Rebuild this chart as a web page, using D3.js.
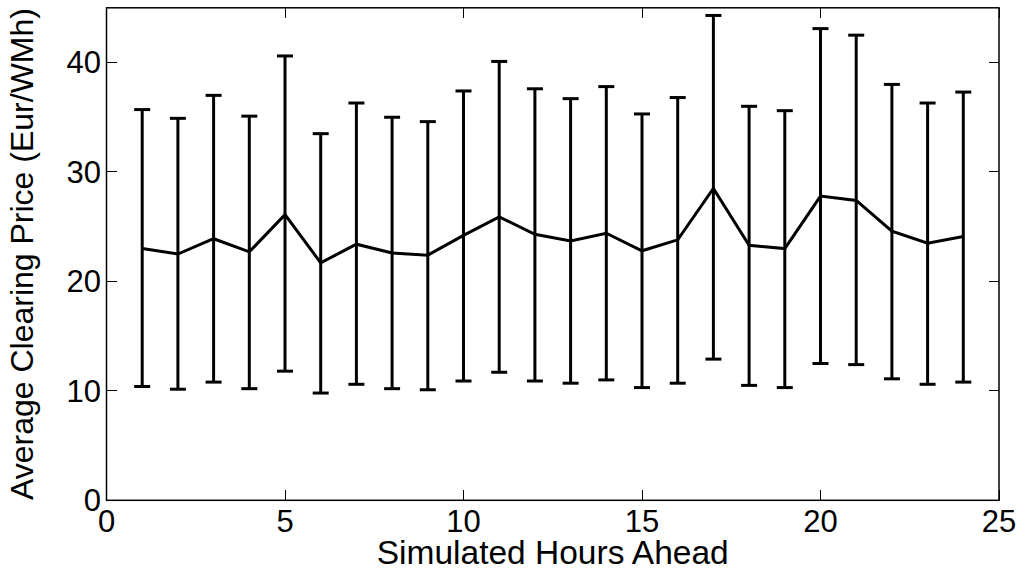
<!DOCTYPE html>
<html>
<head>
<meta charset="utf-8">
<script src="https://cdn.jsdelivr.net/npm/d3@7"></script>
<style>
  html, body { margin: 0; padding: 0; background: #fff; }
  svg { display: block; font-family: "Liberation Sans", Arial, Helvetica, sans-serif; }
</style>
</head>
<body>
<svg id="chart" width="1025" height="570"></svg>
<script>
// ---- data ----
const hours = [1,2,3,4,5,6,7,8,9,10,11,12,13,14,15,16,17,18,19,20,21,22,23,24];
const meanPrice = [23.0,22.5,23.9,22.7,26.1,21.7,23.4,22.6,22.4,24.2,25.9,24.3,23.7,24.4,22.8,23.8,28.5,23.3,23.0,27.8,27.4,24.6,23.5,24.1];
const upperPrice = [35.7,34.9,37.0,35.1,40.6,33.5,36.3,35.0,34.6,37.4,40.1,37.6,36.7,37.8,35.3,36.8,44.3,36.0,35.6,43.1,42.5,38.0,36.3,37.3];
const lowerPrice = [10.4,10.15,10.8,10.2,11.8,9.8,10.6,10.2,10.1,10.9,11.7,10.9,10.7,11.0,10.3,10.7,12.9,10.5,10.3,12.5,12.4,11.1,10.6,10.8];
const xTicks = [0,5,10,15,20,25];
const yTicks = [0,10,20,30,40];
const xTitle = "Simulated Hours Ahead";
const yTitle = "Average Clearing Price (Eur/WMh)";

// ---- layout ----
const svg = d3.select("#chart");
const L = 106.5, R = 999, T = 7.8, B = 500.3;
const x = d3.scaleLinear().domain([0,25]).range([L, R]);
const y = d3.scaleLinear().domain([0,45]).range([B, T]);
const tickLen = 10;

const g = svg.append("g");

// ticks (inside, on all four sides)
const tickStyle = sel => sel.attr("stroke", "#000").attr("stroke-width", 1).attr("shape-rendering", "crispEdges");
xTicks.forEach(v => {
  g.append("line").attr("x1", x(v)).attr("x2", x(v)).attr("y1", B).attr("y2", B - tickLen).call(tickStyle);
  g.append("line").attr("x1", x(v)).attr("x2", x(v)).attr("y1", T).attr("y2", T + tickLen).call(tickStyle);
});
yTicks.forEach(v => {
  g.append("line").attr("x1", L).attr("x2", L + tickLen).attr("y1", y(v)).attr("y2", y(v)).call(tickStyle);
  g.append("line").attr("x1", R).attr("x2", R - tickLen).attr("y1", y(v)).attr("y2", y(v)).call(tickStyle);
});

// tick labels
g.selectAll(".xl").data(xTicks).enter().append("text")
  .attr("x", d => x(d)).attr("y", 532)
  .attr("text-anchor", "middle").attr("font-size", 31).attr("fill", "#000")
  .text(d => d);
g.selectAll(".yl").data(yTicks).enter().append("text")
  .attr("x", 101).attr("y", d => y(d)).attr("dy", "0.35em")
  .attr("text-anchor", "end").attr("font-size", 31).attr("fill", "#000")
  .text(d => d);

// error bars
const capHalf = 8;
const eb = g.append("g").attr("stroke", "#000").attr("stroke-width", 3).attr("fill", "none");
hours.forEach((h, i) => {
  eb.append("line").attr("x1", x(h)).attr("x2", x(h)).attr("y1", y(lowerPrice[i])).attr("y2", y(upperPrice[i]));
  eb.append("line").attr("x1", x(h) - capHalf).attr("x2", x(h) + capHalf).attr("y1", y(upperPrice[i])).attr("y2", y(upperPrice[i]));
  eb.append("line").attr("x1", x(h) - capHalf).attr("x2", x(h) + capHalf).attr("y1", y(lowerPrice[i])).attr("y2", y(lowerPrice[i]));
});

// mean line
const line = d3.line().x((d, i) => x(hours[i])).y(d => y(d));
g.append("path").datum(meanPrice).attr("d", line)
  .attr("fill", "none").attr("stroke", "#000").attr("stroke-width", 3).attr("stroke-linejoin", "miter");

// box
g.append("rect").attr("x", L).attr("y", T).attr("width", R - L).attr("height", B - T)
  .attr("fill", "none").attr("stroke", "#000").attr("stroke-width", 1.5);

// titles
svg.append("text").attr("x", (L + R) / 2).attr("y", 564)
  .attr("text-anchor", "middle").attr("font-size", 33.5).attr("fill", "#000").text(xTitle);
svg.append("text").attr("transform", `translate(33,${(T + B) / 2}) rotate(-90)`)
  .attr("text-anchor", "middle").attr("font-size", 32).attr("fill", "#000").text(yTitle);
</script>
</body>
</html>
